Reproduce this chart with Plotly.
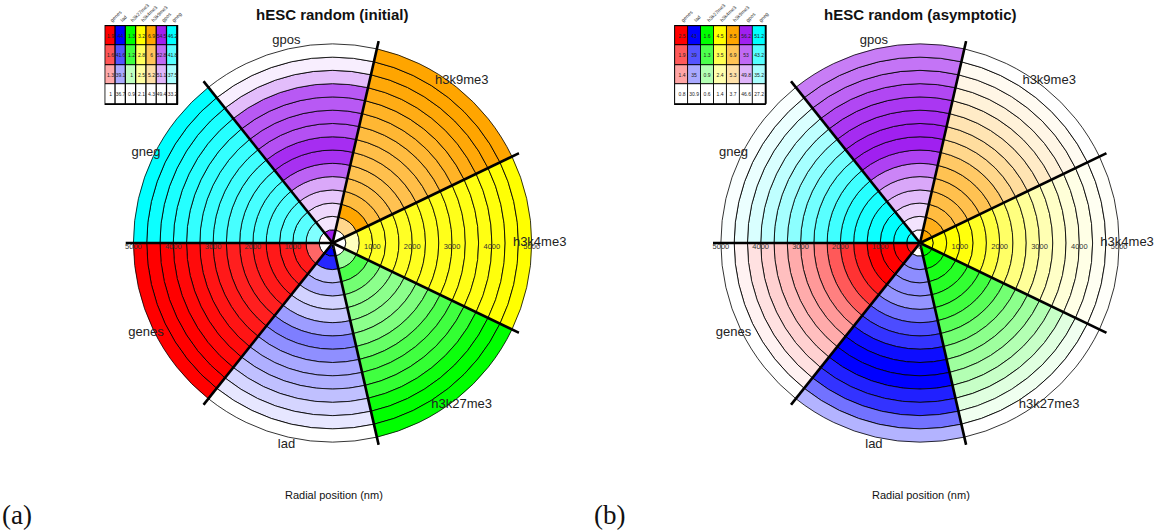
import plotly.graph_objects as go

W, H = 1163, 531

sectors = ["genes", "lad", "h3k27me3", "h3k4me3", "h3k9me3", "gpos", "gneg"]
base_colors = ["#ff0000", "#0000ff", "#00ff00", "#ffff00", "#ffa500", "#a020f0", "#00ffff"]

# radial bin edges (nm)
ring_edges_nm = [0, 333.3, 666.7, 1000, 1333.3, 1666.7, 2000, 2333.3, 2666.7,
                 3000, 3333.3, 3666.7, 4000, 4333.3, 4666.7, 5000]
radial_ticks = [0, 1000, 2000, 3000, 4000, 5000]

# colour-key tables (top row = max, bottom row = min)
legend_initial = [
    [1.9, 1.6, 1.3, 1],
    [44, 41.6, 39.1, 36.7],
    [1.3, 1.2, 1, 0.9],
    [3.2, 2.8, 2.5, 2.1],
    [6.9, 6, 5.2, 4.3],
    [54.5, 52.8, 51.1, 49.4],
    [46.2, 41.8, 37.5, 33.2],
]
legend_asymptotic = [
    [2.5, 1.9, 1.4, 0.8],
    [43, 39, 35, 30.9],
    [1.6, 1.3, 0.9, 0.6],
    [4.5, 3.5, 2.4, 1.4],
    [8.5, 6.9, 5.3, 3.7],
    [56.2, 53, 49.8, 46.6],
    [51.2, 43.2, 35.2, 27.2],
]

# per-ring values (innermost -> outermost)
rings_initial = [
    [1.0, 1.54, 1.81, 1.81, 1.81, 1.81, 1.79, 1.79, 1.81, 1.83, 1.86, 1.87, 1.9, 1.9, 1.9],
    [44.0, 42.9, 38.5, 39.0, 38.0, 38.3, 39.5, 40.4, 39.9, 39.2, 39.0, 38.5, 37.9, 37.4, 36.7],
    [0.9, 1.06, 1.18, 1.12, 1.08, 1.08, 1.08, 1.1, 1.14, 1.18, 1.2, 1.22, 1.28, 1.3, 1.3],
    [2.1, 2.38, 3.04, 3.04, 3.04, 3.04, 3.06, 3.07, 3.09, 3.09, 3.11, 3.12, 3.15, 3.18, 3.2],
    [4.3, 5.47, 6.9, 6.25, 6.12, 6.07, 6.12, 6.17, 6.25, 6.38, 6.51, 6.69, 6.82, 6.9, 6.9],
    [54.5, 50.0, 50.3, 50.7, 51.4, 53.0, 54.1, 54.2, 53.4, 53.5, 53.2, 53.2, 50.9, 49.8, 49.4],
    [33.2, 39.7, 41.7, 42.0, 42.3, 42.6, 42.6, 42.6, 43.0, 43.3, 43.6, 44.3, 44.9, 45.6, 46.2],
]
rings_asymptotic = [
    [2.33, 2.5, 2.5, 2.5, 2.33, 2.16, 1.91, 1.65, 1.48, 1.36, 1.23, 1.11, 1.0, 0.89, 0.8],
    [30.9, 36.3, 36.3, 36.3, 36.0, 37.6, 39.4, 40.6, 42.4, 43.0, 43.0, 41.5, 40.6, 37.6, 34.5],
    [1.6, 1.6, 1.5, 1.45, 1.4, 1.35, 1.25, 1.15, 1.05, 0.98, 0.9, 0.82, 0.72, 0.66, 0.6],
    [4.5, 4.5, 4.5, 4.35, 4.04, 3.73, 3.26, 2.95, 2.64, 2.33, 2.08, 1.87, 1.71, 1.56, 1.46],
    [8.5, 8.02, 7.3, 7.16, 7.06, 6.96, 6.58, 5.86, 5.52, 5.14, 4.76, 4.42, 4.18, 3.94, 3.7],
    [47.1, 47.8, 48.5, 49.5, 50.4, 51.9, 54.8, 56.2, 56.2, 55.7, 55.2, 54.5, 53.3, 52.6, 52.2],
    [48.8, 51.2, 51.2, 50.0, 48.8, 47.6, 45.2, 42.8, 40.4, 38.0, 35.6, 33.2, 30.8, 29.1, 27.7],
]

FONT = "Liberation Sans"
R_MAX = 5200      # radial range shown (label / divider radius)
R_PX = 208        # pixels for R_MAX
CY = 243          # centre y (px from top)

panels = [
    dict(cx=334, rings=rings_initial, legend=legend_initial,
         title="hESC random (initial)", polar="polar", tag="(a)", tagx=17,
         tbl=(105, 179), xa="x", ya="y"),
    dict(cx=924, rings=rings_asymptotic, legend=legend_asymptotic,
         title="hESC random (asymptotic)", polar="polar2", tag="(b)", tagx=612,
         tbl=(677, 770), xa="x2", ya="y2"),
]

nsec = len(sectors)
sec_w = 360 / nsec
theta_c = [180 + (i + 0.5) * sec_w for i in range(nsec)]
ring_w = [ring_edges_nm[k + 1] - ring_edges_nm[k] for k in range(len(ring_edges_nm) - 1)]
ring_base = ring_edges_nm[:-1]

fig = go.Figure()
annotations = []
layout_extra = {}

for p in panels:
    for i, s in enumerate(sectors):
        lo, hi = p["legend"][i][-1], p["legend"][i][0]
        fig.add_trace(go.Barpolar(
            r=ring_w, base=ring_base, theta=[theta_c[i]] * len(ring_w),
            width=[sec_w] * len(ring_w),
            marker=dict(color=p["rings"][i], colorscale=[[0, "white"], [1, base_colors[i]]],
                        cmin=lo, cmax=hi, line=dict(color="black", width=0.8)),
            subplot=p["polar"], showlegend=False, hoverinfo="skip"))
    # thick sector dividers
    br, bt = [], []
    for i in range(nsec):
        a = 180 + i * sec_w
        br += [0, R_MAX, None]
        bt += [a, a, None]
    fig.add_trace(go.Scatterpolar(r=br, theta=bt, mode="lines",
                                  line=dict(color="black", width=2.6),
                                  cliponaxis=False, subplot=p["polar"],
                                  showlegend=False, hoverinfo="skip"))
    # sector labels
    fig.add_trace(go.Scatterpolar(r=[R_MAX] * nsec, theta=theta_c, text=sectors,
                                  mode="text", textposition="middle center",
                                  textfont=dict(family=FONT, size=13, color="#222"),
                                  cliponaxis=False, subplot=p["polar"],
                                  showlegend=False, hoverinfo="skip"))
    # radial tick labels along the horizontal axis
    tr = radial_ticks + radial_ticks[1:]
    tt = [0] * len(radial_ticks) + [180] * (len(radial_ticks) - 1)
    fig.add_trace(go.Scatterpolar(r=tr, theta=tt, text=[str(v) for v in tr],
                                  mode="text", textposition="bottom center",
                                  textfont=dict(family=FONT, size=7.5, color="#333"),
                                  cliponaxis=False, subplot=p["polar"],
                                  showlegend=False, hoverinfo="skip"))

    cx = p["cx"]
    layout_extra[p["polar"]] = dict(
        domain=dict(x=[(cx - R_PX) / W, (cx + R_PX) / W],
                    y=[(H - CY - R_PX) / H, (H - CY + R_PX) / H]),
        bgcolor="white", barmode="overlay", bargap=0,
        radialaxis=dict(range=[0, R_MAX], visible=False),
        angularaxis=dict(visible=False, rotation=0, direction="counterclockwise"),
    )

    # colour-key table
    for i, s in enumerate(sectors):
        col = p["legend"][i]
        fig.add_trace(go.Heatmap(
            x=[i], y=list(range(len(col))), z=[[v] for v in col],
            zmin=col[-1], zmax=col[0],
            colorscale=[[0, "white"], [1, base_colors[i]]], showscale=False,
            texttemplate="%{z}", textfont=dict(family=FONT, size=5, color="#222"),
            xgap=1, ygap=1, xaxis=p["xa"], yaxis=p["ya"], hoverinfo="skip"))
    x0, x1 = p["tbl"]
    xn = "xaxis" if p["xa"] == "x" else "xaxis2"
    yn = "yaxis" if p["ya"] == "y" else "yaxis2"
    layout_extra[xn] = dict(domain=[x0 / W, x1 / W], range=[-0.58, nsec - 0.42],
                            tickvals=list(range(nsec)), ticktext=sectors, side="top",
                            tickangle=-45, tickfont=dict(family=FONT, size=5, color="#333"),
                            showgrid=False, zeroline=False, ticks="", anchor=p["ya"],
                            fixedrange=True)
    layout_extra[yn] = dict(domain=[(H - 105) / H, (H - 25) / H], range=[3.56, -0.56],
                            showgrid=False, zeroline=False, showticklabels=False,
                            ticks="", anchor=p["xa"], fixedrange=True)

    annotations.append(dict(text="<b>" + p["title"] + "</b>", x=cx / W, y=(H - 15) / H,
                            xref="paper", yref="paper", showarrow=False,
                            xanchor="center", yanchor="middle",
                            font=dict(family=FONT, size=15, color="#111")))
    annotations.append(dict(text="Radial position (nm)", x=(cx + 1) / W, y=(H - 495) / H,
                            xref="paper", yref="paper", showarrow=False,
                            xanchor="center", yanchor="middle",
                            font=dict(family=FONT, size=11, color="#111")))
    annotations.append(dict(text=p["tag"], x=p["tagx"] / W, y=(H - 515) / H,
                            xref="paper", yref="paper", showarrow=False,
                            xanchor="center", yanchor="middle",
                            font=dict(family="Liberation Serif", size=27, color="#111")))

fig.update_layout(width=W, height=H, margin=dict(l=0, r=0, t=0, b=0),
                  paper_bgcolor="white", plot_bgcolor="black",
                  showlegend=False, annotations=annotations, **layout_extra)

fig.write_html("out.html", config={"displayModeBar": False})
